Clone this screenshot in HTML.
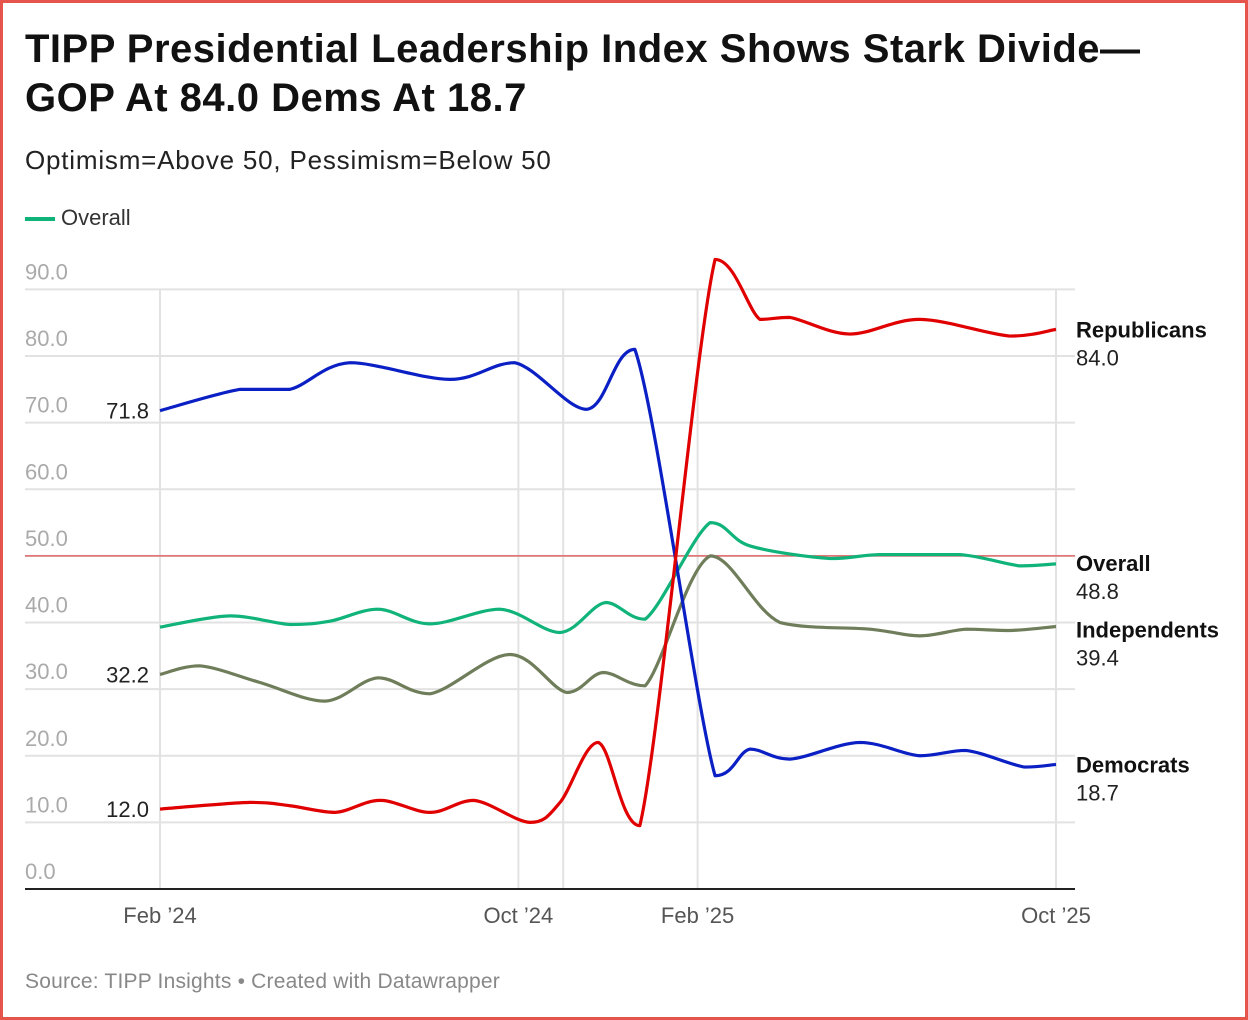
<!DOCTYPE html>
<html><head><meta charset="utf-8"><style>
html,body{margin:0;padding:0;background:#fff}
body{width:1248px;height:1020px;position:relative;overflow:hidden;font-family:"Liberation Sans",sans-serif}
.frame{position:absolute;left:0;top:0;width:1242px;height:1014px;border:3px solid #e5554c}
.t{position:absolute;left:25px;top:25px;font-size:40px;font-weight:bold;line-height:49px;color:#111;letter-spacing:0.5px}
.sub{position:absolute;left:25px;top:145px;font-size:26px;color:#222;letter-spacing:0.8px}
.leg{position:absolute;left:25px;top:205px;font-size:22px;color:#333}
.leg span.l{display:inline-block;width:30px;height:4px;background:#10b37a;vertical-align:middle;margin-right:6px}
.src{position:absolute;left:25px;top:970px;font-size:21px;color:#888;letter-spacing:0.2px}
svg{position:absolute;left:0;top:0}
</style></head><body>
<div class="frame"></div>
<div class="t">TIPP Presidential Leadership Index Shows Stark Divide—<br>GOP At 84.0 Dems At 18.7</div>
<div class="sub">Optimism=Above 50, Pessimism=Below 50</div>
<div class="leg"><span class="l"></span>Overall</div>
<div class="src">Source: TIPP Insights • Created with Datawrapper</div>
<svg id="c" width="1248" height="1020"></svg>
<script>
const yTicks=[0,10,20,30,40,50,60,70,80,90];
const xTickMonths=[0,8,12,20];
const xTickLabels=["Feb ’24","Oct ’24","Feb ’25","Oct ’25"];
const vGridMonths=[0,8,9,12,20];
const seriesNames=["Democrats","Republicans","Overall","Independents"];
const seriesColors=["#0a1fc4","#e00000","#10b37a","#6f7d5a"];
const demMonths=[0,1.79,2.9,4.24,6.47,7.92,9.53,10.6,12.39,13.17,14.06,15.62,16.96,17.99,19.3,20];
const demValues=[71.8,75,75,79,76.5,79,72,81,17,21,19.5,22,20,20.8,18.3,18.7];
const repMonths=[0,2.01,2.9,3.91,4.91,6.03,7.01,8.26,8.93,9.78,10.71,12.39,13.39,14.06,15.4,16.96,18.97,20];
const repValues=[12,13,12.5,11.5,13.3,11.5,13.3,10,13,22,9.5,94.5,85.5,85.8,83.3,85.5,83,84];
const allMonths=[0,1.56,2.9,3.79,4.87,6.03,7.59,8.93,9.94,10.83,12.28,13.17,14.96,16.07,17.86,19.2,20];
const allValues=[39.3,41,39.7,40.2,42,39.8,42,38.5,43,40.5,55,51.5,49.6,50.2,50.2,48.5,48.8];
const indMonths=[0,0.89,2.23,3.68,4.87,6.03,7.81,9.08,9.89,10.83,12.28,13.84,15.85,16.96,17.99,18.97,20];
const indValues=[32.2,33.5,31,28.2,31.7,29.3,35.2,29.5,32.5,30.5,50,40,39,38,39,38.8,39.4];

const svg=document.getElementById('c');const NS="http://www.w3.org/2000/svg";
const X=m=>160+m*44.8, Y=v=>889-v*6.662;
function mk(t,a,txt){const e=document.createElementNS(NS,t);for(const k in a)e.setAttribute(k,a[k]);if(txt!=null)e.textContent=txt;svg.appendChild(e);return e;}
yTicks.forEach(v=>{
  if(v>0){const g=mk('line',{x1:25,x2:1075,y1:Y(v),y2:Y(v),stroke:'#e2e2e2','stroke-width':2});
  
  }
  const t=mk('text',{x:25,y:Y(v)-10,'font-size':22,fill:'#aaa','font-family':'Liberation Sans'},v.toFixed(1));
  
  
});
vGridMonths.forEach(m=>{const g=mk('line',{x1:X(m),x2:X(m),y1:290,y2:889,stroke:'#e2e2e2','stroke-width':2});
  
  });
const ref=mk('line',{x1:25,x2:1075,y1:Y(50),y2:Y(50),stroke:'#e06666','stroke-width':1.5});


const ax=mk('line',{x1:25,x2:1075,y1:889,y2:889,stroke:'#222','stroke-width':2});


xTickMonths.forEach((m,i)=>{const t=mk('text',{x:X(m),y:923,'font-size':22,fill:'#555','text-anchor':'middle','font-family':'Liberation Sans'},xTickLabels[i]);
  
  });
function cl(v,a,b){return Math.max(Math.min(a,b),Math.min(Math.max(a,b),v));}
function path(ms,vs){const p=ms.map((m,i)=>[X(m),Y(vs[i])]);let d=`M${p[0][0]},${p[0][1]}`;
  for(let i=0;i<p.length-1;i++){const p0=p[i-1]||p[i],p1=p[i],p2=p[i+1],p3=p[i+2]||p2;
    const c1y=cl(p1[1]+(p2[1]-p0[1])/6,p1[1],p2[1]), c2y=cl(p2[1]-(p3[1]-p1[1])/6,p1[1],p2[1]);
    d+=` C${p1[0]+(p2[0]-p0[0])/6},${c1y} ${p2[0]-(p3[0]-p1[0])/6},${c2y} ${p2[0]},${p2[1]}`;}return d;}
const data=[[demMonths,demValues],[repMonths,repValues],[allMonths,allValues],[indMonths,indValues]];
const offs=[8,8,7,11];
[3,2,0,1].forEach(i=>{const e=mk('path',{d:path(data[i][0],data[i][1]),fill:'none',stroke:seriesColors[i],'stroke-width':3.2,'stroke-linejoin':'round'});
  
  
  const vs=data[i][1],last=vs[vs.length-1];
  const ly=Y(last)+offs[i];
  const n=mk('text',{x:1076,y:ly,'font-size':22,'font-weight':'bold',fill:'#111','font-family':'Liberation Sans'},seriesNames[i]);
  
  
  const v=mk('text',{x:1076,y:ly+28,'font-size':22,fill:'#222','font-family':'Liberation Sans'},last.toFixed(1));
  
  
});
[0,1,3].forEach(i=>{const v0=data[i][1][0];const t=mk('text',{x:149,y:Y(v0)+8,'font-size':22,fill:'#222','text-anchor':'end','font-family':'Liberation Sans'},v0.toFixed(1));
  
  });
</script>
</body></html>
